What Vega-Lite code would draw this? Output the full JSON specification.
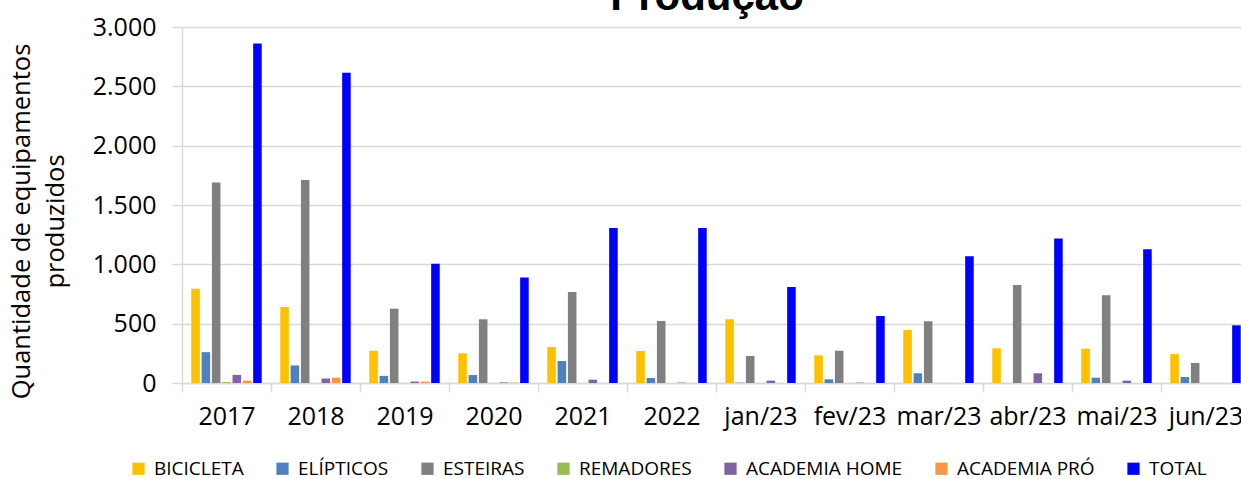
{
  "$schema": "https://vega.github.io/schema/vega-lite/v6.json",
  "width": 1068,
  "height": 356,
  "autosize": {"type": "none"},
  "padding": {"left": 182, "top": 27, "right": -9, "bottom": 96},
  "background": "white",
  "config": {"font": "Open Sans", "view": {"stroke": null}},
  "title": {
    "text": "Produção",
    "font": "Liberation Sans",
    "fontWeight": "bold",
    "fontSize": 42,
    "color": "black",
    "anchor": "middle",
    "dx": -9,
    "offset": -4
  },
  "data": {
    "values": [
      {"periodo": "2017", "categoria": "BICICLETA", "valor": 795},
      {"periodo": "2017", "categoria": "ELÍPTICOS", "valor": 260},
      {"periodo": "2017", "categoria": "ESTEIRAS", "valor": 1690},
      {"periodo": "2017", "categoria": "REMADORES", "valor": 8},
      {"periodo": "2017", "categoria": "ACADEMIA HOME", "valor": 68},
      {"periodo": "2017", "categoria": "ACADEMIA PRÓ", "valor": 20},
      {"periodo": "2017", "categoria": "TOTAL", "valor": 2860},
      {"periodo": "2018", "categoria": "BICICLETA", "valor": 640},
      {"periodo": "2018", "categoria": "ELÍPTICOS", "valor": 148},
      {"periodo": "2018", "categoria": "ESTEIRAS", "valor": 1710},
      {"periodo": "2018", "categoria": "REMADORES", "valor": 0},
      {"periodo": "2018", "categoria": "ACADEMIA HOME", "valor": 38},
      {"periodo": "2018", "categoria": "ACADEMIA PRÓ", "valor": 45},
      {"periodo": "2018", "categoria": "TOTAL", "valor": 2615},
      {"periodo": "2019", "categoria": "BICICLETA", "valor": 272},
      {"periodo": "2019", "categoria": "ELÍPTICOS", "valor": 60},
      {"periodo": "2019", "categoria": "ESTEIRAS", "valor": 626},
      {"periodo": "2019", "categoria": "REMADORES", "valor": 0},
      {"periodo": "2019", "categoria": "ACADEMIA HOME", "valor": 12},
      {"periodo": "2019", "categoria": "ACADEMIA PRÓ", "valor": 12},
      {"periodo": "2019", "categoria": "TOTAL", "valor": 1005},
      {"periodo": "2020", "categoria": "BICICLETA", "valor": 250},
      {"periodo": "2020", "categoria": "ELÍPTICOS", "valor": 67},
      {"periodo": "2020", "categoria": "ESTEIRAS", "valor": 537},
      {"periodo": "2020", "categoria": "REMADORES", "valor": 0},
      {"periodo": "2020", "categoria": "ACADEMIA HOME", "valor": 5},
      {"periodo": "2020", "categoria": "ACADEMIA PRÓ", "valor": 3},
      {"periodo": "2020", "categoria": "TOTAL", "valor": 888},
      {"periodo": "2021", "categoria": "BICICLETA", "valor": 303},
      {"periodo": "2021", "categoria": "ELÍPTICOS", "valor": 185},
      {"periodo": "2021", "categoria": "ESTEIRAS", "valor": 767},
      {"periodo": "2021", "categoria": "REMADORES", "valor": 0},
      {"periodo": "2021", "categoria": "ACADEMIA HOME", "valor": 28},
      {"periodo": "2021", "categoria": "ACADEMIA PRÓ", "valor": 0},
      {"periodo": "2021", "categoria": "TOTAL", "valor": 1306},
      {"periodo": "2022", "categoria": "BICICLETA", "valor": 270},
      {"periodo": "2022", "categoria": "ELÍPTICOS", "valor": 42},
      {"periodo": "2022", "categoria": "ESTEIRAS", "valor": 523},
      {"periodo": "2022", "categoria": "REMADORES", "valor": 0},
      {"periodo": "2022", "categoria": "ACADEMIA HOME", "valor": 3},
      {"periodo": "2022", "categoria": "ACADEMIA PRÓ", "valor": 0},
      {"periodo": "2022", "categoria": "TOTAL", "valor": 1306},
      {"periodo": "jan/23", "categoria": "BICICLETA", "valor": 537},
      {"periodo": "jan/23", "categoria": "ELÍPTICOS", "valor": 3},
      {"periodo": "jan/23", "categoria": "ESTEIRAS", "valor": 228},
      {"periodo": "jan/23", "categoria": "REMADORES", "valor": 0},
      {"periodo": "jan/23", "categoria": "ACADEMIA HOME", "valor": 20},
      {"periodo": "jan/23", "categoria": "ACADEMIA PRÓ", "valor": 0},
      {"periodo": "jan/23", "categoria": "TOTAL", "valor": 809},
      {"periodo": "fev/23", "categoria": "BICICLETA", "valor": 233},
      {"periodo": "fev/23", "categoria": "ELÍPTICOS", "valor": 31},
      {"periodo": "fev/23", "categoria": "ESTEIRAS", "valor": 272},
      {"periodo": "fev/23", "categoria": "REMADORES", "valor": 0},
      {"periodo": "fev/23", "categoria": "ACADEMIA HOME", "valor": 3},
      {"periodo": "fev/23", "categoria": "ACADEMIA PRÓ", "valor": 0},
      {"periodo": "fev/23", "categoria": "TOTAL", "valor": 565},
      {"periodo": "mar/23", "categoria": "BICICLETA", "valor": 447},
      {"periodo": "mar/23", "categoria": "ELÍPTICOS", "valor": 82},
      {"periodo": "mar/23", "categoria": "ESTEIRAS", "valor": 520},
      {"periodo": "mar/23", "categoria": "REMADORES", "valor": 0},
      {"periodo": "mar/23", "categoria": "ACADEMIA HOME", "valor": 0},
      {"periodo": "mar/23", "categoria": "ACADEMIA PRÓ", "valor": 0},
      {"periodo": "mar/23", "categoria": "TOTAL", "valor": 1068},
      {"periodo": "abr/23", "categoria": "BICICLETA", "valor": 292},
      {"periodo": "abr/23", "categoria": "ELÍPTICOS", "valor": 0},
      {"periodo": "abr/23", "categoria": "ESTEIRAS", "valor": 826},
      {"periodo": "abr/23", "categoria": "REMADORES", "valor": 0},
      {"periodo": "abr/23", "categoria": "ACADEMIA HOME", "valor": 82},
      {"periodo": "abr/23", "categoria": "ACADEMIA PRÓ", "valor": 0},
      {"periodo": "abr/23", "categoria": "TOTAL", "valor": 1217},
      {"periodo": "mai/23", "categoria": "BICICLETA", "valor": 289},
      {"periodo": "mai/23", "categoria": "ELÍPTICOS", "valor": 45},
      {"periodo": "mai/23", "categoria": "ESTEIRAS", "valor": 739},
      {"periodo": "mai/23", "categoria": "REMADORES", "valor": 0},
      {"periodo": "mai/23", "categoria": "ACADEMIA HOME", "valor": 20},
      {"periodo": "mai/23", "categoria": "ACADEMIA PRÓ", "valor": 0},
      {"periodo": "mai/23", "categoria": "TOTAL", "valor": 1127},
      {"periodo": "jun/23", "categoria": "BICICLETA", "valor": 244},
      {"periodo": "jun/23", "categoria": "ELÍPTICOS", "valor": 51},
      {"periodo": "jun/23", "categoria": "ESTEIRAS", "valor": 169},
      {"periodo": "jun/23", "categoria": "REMADORES", "valor": 0},
      {"periodo": "jun/23", "categoria": "ACADEMIA HOME", "valor": 0},
      {"periodo": "jun/23", "categoria": "ACADEMIA PRÓ", "valor": 0},
      {"periodo": "jun/23", "categoria": "TOTAL", "valor": 486}
    ]
  },
  "mark": {"type": "bar"},
  "encoding": {
    "x": {
      "field": "periodo",
      "type": "nominal",
      "sort": null,
      "scale": {"paddingInner": 0, "paddingOuter": 0},
      "axis": {
        "title": null,
        "labelAngle": 0,
        "labelFontSize": 25,
        "labelColor": "black",
        "labelPadding": 12,
        "domainColor": "#D9D9D9",
        "domainWidth": 1.5,
        "tickColor": "#D9D9D9",
        "tickWidth": 1.5,
        "tickSize": 9,
        "tickBand": "extent",
        "grid": false
      }
    },
    "xOffset": {
      "field": "categoria",
      "type": "nominal",
      "sort": ["BICICLETA", "ELÍPTICOS", "ESTEIRAS", "REMADORES", "ACADEMIA HOME", "ACADEMIA PRÓ", "TOTAL"],
      "scale": {"paddingInner": 0.17, "paddingOuter": 0.9}
    },
    "y": {
      "field": "valor",
      "type": "quantitative",
      "scale": {"domain": [0, 3000], "nice": false},
      "axis": {
        "values": [0, 500, 1000, 1500, 2000, 2500, 3000],
        "labelExpr": "replace(format(datum.value, ','), ',', '.')",
        "labelFontSize": 25,
        "labelColor": "black",
        "labelPadding": 16,
        "tickSize": 10,
        "tickColor": "#D9D9D9",
        "tickWidth": 1.5,
        "domainColor": "#D9D9D9",
        "domainWidth": 1.5,
        "gridColor": "#D9D9D9",
        "gridWidth": 1.5,
        "title": ["Quantidade de equipamentos", "produzidos"],
        "titleFontSize": 25.5,
        "titleFontWeight": "normal",
        "titleColor": "black",
        "titleLineHeight": 34,
        "titleAngle": -90,
        "titleAnchor": "middle",
        "titleBaseline": "top",
        "titleX": -173,
        "titleY": 194
      }
    },
    "color": {
      "field": "categoria",
      "type": "nominal",
      "sort": ["BICICLETA", "ELÍPTICOS", "ESTEIRAS", "REMADORES", "ACADEMIA HOME", "ACADEMIA PRÓ", "TOTAL"],
      "scale": {
        "domain": ["BICICLETA", "ELÍPTICOS", "ESTEIRAS", "REMADORES", "ACADEMIA HOME", "ACADEMIA PRÓ", "TOTAL"],
        "range": ["#FFC000", "#4F81BD", "#808080", "#9BBB59", "#8064A2", "#F79646", "#0000FF"]
      },
      "legend": {
        "title": null,
        "orient": "none",
        "direction": "horizontal",
        "legendX": -53,
        "legendY": 432,
        "symbolType": "square",
        "symbolSize": 150,
        "symbolStrokeWidth": 0,
        "labelFontSize": 19,
        "labelLimit": 400,
        "labelColor": "black",
        "labelOffset": 6,
        "columnPadding": 29
      }
    }
  }
}
